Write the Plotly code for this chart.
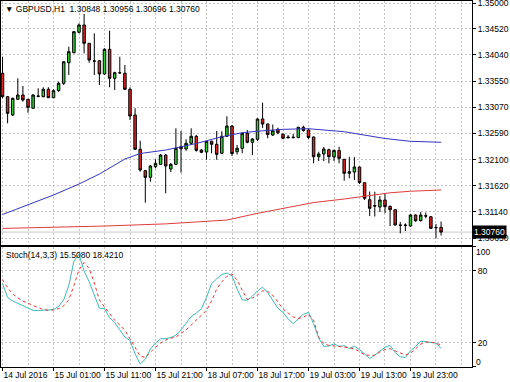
import plotly.graph_objects as go

# ---------------- data ----------------
bar_idx = list(range(87))

opens = [1.33699, 1.33266, 1.32927, 1.33218, 1.33297, 1.33218, 1.33051, 1.33279, 1.33266, 1.33403,
         1.33247, 1.33377, 1.33514, 1.33895, 1.34080, 1.34458, 1.34593, 1.34254, 1.33926, 1.33932,
         1.33686, 1.34143, 1.33606, 1.33710, 1.33699, 1.33403, 1.32927, 1.32292, 1.31896, 1.31774,
         1.31970, 1.32014, 1.32186, 1.31927, 1.32014, 1.32340, 1.32298, 1.32403, 1.32533, 1.32279,
         1.32242, 1.32440, 1.32385, 1.32218, 1.32533, 1.32723, 1.32248, 1.32311, 1.32588, 1.32422,
         1.32477, 1.32853, 1.32760, 1.32557, 1.32662, 1.32570, 1.32520, 1.32507, 1.32510, 1.32699,
         1.32649, 1.32520, 1.32155, 1.32205, 1.32285, 1.32149, 1.32270, 1.32107, 1.31848, 1.31872,
         1.31964, 1.31674, 1.31359, 1.31252, 1.31224, 1.31354, 1.31237, 1.31174, 1.30891, 1.30891,
         1.30872, 1.31076, 1.30974, 1.31063, 1.31044, 1.30845, 1.30848]

highs = [1.34006, 1.33279, 1.33247, 1.33606, 1.33464, 1.33218, 1.33316, 1.33421, 1.33440, 1.33440,
         1.33403, 1.33543, 1.33913, 1.34191, 1.34482, 1.34624, 1.34796, 1.34254, 1.34439, 1.33945,
         1.34162, 1.34487, 1.33728, 1.34006, 1.33852, 1.33440, 1.33051, 1.32451, 1.31909, 1.32001,
         1.32107, 1.32205, 1.32205, 1.32038, 1.32681, 1.32631, 1.32477, 1.32681, 1.32557, 1.32292,
         1.32440, 1.32451, 1.32631, 1.32625, 1.32903, 1.32742, 1.32372, 1.32599, 1.32649, 1.32496,
         1.32866, 1.33155, 1.32770, 1.32751, 1.32692, 1.32588, 1.32557, 1.32575, 1.32710, 1.32729,
         1.32681, 1.32529, 1.32248, 1.32335, 1.32303, 1.32285, 1.32340, 1.32112, 1.32155, 1.32149,
         1.31974, 1.31677, 1.31511, 1.31507, 1.31428, 1.31465, 1.31252, 1.31178, 1.30946, 1.30922,
         1.31089, 1.31089, 1.31131, 1.31122, 1.31057, 1.30909, 1.30956]

lows = [1.33236, 1.32773, 1.32908, 1.33205, 1.33173, 1.32969, 1.33051, 1.33255, 1.33255, 1.33247,
        1.33247, 1.33358, 1.33482, 1.33667, 1.34069, 1.34439, 1.34069, 1.33895, 1.33667, 1.33482,
        1.33667, 1.33440, 1.33390, 1.33686, 1.33390, 1.32834, 1.32279, 1.31877, 1.31304, 1.31692,
        1.31940, 1.32014, 1.31478, 1.31872, 1.32001, 1.31859, 1.32266, 1.32372, 1.32248, 1.32223,
        1.32099, 1.32218, 1.32099, 1.32205, 1.32520, 1.32168, 1.32196, 1.32218, 1.32403, 1.32186,
        1.32446, 1.32686, 1.32496, 1.32538, 1.32570, 1.32477, 1.32496, 1.32496, 1.32496, 1.32618,
        1.32477, 1.32033, 1.32075, 1.32075, 1.32033, 1.32075, 1.32033, 1.31711, 1.31755, 1.31724,
        1.31650, 1.31354, 1.31057, 1.31048, 1.31131, 1.31113, 1.30872, 1.30882, 1.30737, 1.30780,
        1.30854, 1.30952, 1.30952, 1.31015, 1.30817, 1.30645, 1.30696]

closes = [1.33266, 1.32958, 1.33236, 1.33297, 1.33205, 1.33069, 1.33297, 1.33273, 1.33403, 1.33247,
          1.33377, 1.33514, 1.33913, 1.34099, 1.34469, 1.34593, 1.34254, 1.33945, 1.33925, 1.33686,
          1.34143, 1.33606, 1.33710, 1.33708, 1.33403, 1.32908, 1.32292, 1.31909, 1.31774, 1.31983,
          1.32033, 1.32186, 1.31983, 1.32014, 1.32311, 1.32303, 1.32403, 1.32533, 1.32273, 1.32236,
          1.32440, 1.32385, 1.32199, 1.32533, 1.32723, 1.32214, 1.32311, 1.32588, 1.32422, 1.32483,
          1.32853, 1.32760, 1.32566, 1.32636, 1.32599, 1.32496, 1.32507, 1.32514, 1.32699, 1.32640,
          1.32510, 1.32155, 1.32205, 1.32298, 1.32155, 1.32273, 1.32125, 1.31848, 1.31877, 1.31964,
          1.31677, 1.31385, 1.31200, 1.31242, 1.31354, 1.31230, 1.31174, 1.30891, 1.30885, 1.30885,
          1.31076, 1.30969, 1.31076, 1.31057, 1.30830, 1.30841, 1.30760]

ma_blue_idx = [0, 10, 15, 19, 24, 27, 32, 35, 38, 43, 47, 50, 55, 60, 67, 75, 80, 86]
ma_blue_val = [1.31085, 1.31446, 1.31650, 1.31835, 1.32112, 1.32214, 1.32279, 1.32335, 1.32399,
               1.32525, 1.32599, 1.32627, 1.32662, 1.32673, 1.32618, 1.32492, 1.32440, 1.32422]

ma_red_idx = [0, 10, 20, 32, 44, 50, 55, 61, 67, 72, 76, 80, 86]
ma_red_val = [1.30828, 1.30850, 1.30872, 1.30912, 1.30983, 1.31107, 1.31196, 1.31307, 1.31372,
              1.31437, 1.31487, 1.31516, 1.31539]

stoch_k = [69.5, 58, 55, 53, 51, 49, 47.2, 47, 47.2, 47.5,
           47.8, 50.5, 56, 68, 88, 94, 80, 71, 60, 49,
           48.6, 41, 37, 31, 25, 22, 11, 2.5, 6.5, 15,
           20, 23.5, 23.6, 24.5, 26.5, 31, 37, 42, 45, 48.5,
           58, 69.5, 73.5, 77, 78.3, 76, 65, 56, 55.6, 59,
           63.5, 66.5, 62, 55, 49, 45.5, 40, 36.2, 40.5, 44,
           45.5, 36, 24, 17.2, 17.5, 19.3, 17.2, 17.8, 15.4, 17.2,
           14.5, 10.5, 7, 10, 13.5, 16.5, 18, 12, 8.5, 8,
           13.5, 17, 21.5, 21, 20.2, 20, 15.508]

stoch_d = [72.8, 66, 61, 57.5, 55, 53, 51.4, 49.5, 48, 47.2,
           47.5, 48.6, 51, 56, 68, 81, 87, 82, 70, 56,
           50, 44, 39, 35, 30.6, 23.5, 16.5, 9, 8, 12.5,
           16.5, 20, 22.5, 24, 25, 28, 31, 35, 38.9, 43,
           47.2, 55, 65, 71, 75.5, 77.5, 72.5, 64, 56.2, 57.5,
           60, 63.5, 63, 59.7, 54, 48.5, 45, 41.7, 40.5, 41.5,
           43.9, 38.9, 25, 19.5, 18, 17.5, 17.2, 16.6, 16.1, 15,
           13, 10, 9.7, 9.7, 12.5, 14.5, 15.2, 13.5, 11.5, 10,
           11.5, 15, 19, 20.8, 20.8, 19.8, 18.421]

price_ticks = [1.30650, 1.31140, 1.31620, 1.32100, 1.32590, 1.33070, 1.33550, 1.34040, 1.34520, 1.35000]
price_tick_text = ["1.30650", "1.31140", "1.31620", "1.32100", "1.32590", "1.33070", "1.33550",
                   "1.34040", "1.34520", "1.35000"]

time_tick_idx = [0, 10, 20, 30, 40, 50, 60, 70, 80]
time_tick_text = ["14 Jul 2016", "15 Jul 01:00", "15 Jul 11:00", "15 Jul 21:00", "18 Jul 07:00",
                  "18 Jul 17:00", "19 Jul 03:00", "19 Jul 13:00", "19 Jul 23:00"]
grid_minor_idx = [5, 15, 25, 35, 45, 55, 65, 75, 85, 90]

symbol_title = "\u25bc GBPUSD,H1\u00a0\u00a01.30848 1.30956 1.30696 1.30760"
stoch_title = "Stoch(14,3,3) 15.5080 18.4210"
last_price = 1.30760
last_price_text = "1.30760"

# ---------------- figure ----------------
FONT = "Liberation Sans, Arial, sans-serif"
FS = 8.5
GRID = "#c4c4c4"
XR = [-0.294, 92.06]

fig = go.Figure()

fig.add_trace(go.Candlestick(
    x=bar_idx, open=opens, high=highs, low=lows, close=closes,
    xaxis="x", yaxis="y",
    increasing=dict(line=dict(color="black", width=1), fillcolor="#32cd32"),
    decreasing=dict(line=dict(color="black", width=1), fillcolor="#e02424"),
    whiskerwidth=0, hoverinfo="skip", showlegend=False,
))

fig.add_trace(go.Scatter(x=ma_blue_idx, y=ma_blue_val, mode="lines", xaxis="x", yaxis="y",
                         line=dict(color="#3535c0", width=1), hoverinfo="skip", showlegend=False))
fig.add_trace(go.Scatter(x=ma_red_idx, y=ma_red_val, mode="lines", xaxis="x", yaxis="y",
                         line=dict(color="#e03c3c", width=1), hoverinfo="skip", showlegend=False))

fig.add_trace(go.Scatter(x=bar_idx, y=stoch_k, mode="lines", xaxis="x2", yaxis="y2",
                         line=dict(color="#3cbcb6", width=1), hoverinfo="skip", showlegend=False))
fig.add_trace(go.Scatter(x=bar_idx, y=stoch_d, mode="lines", xaxis="x2", yaxis="y2",
                         line=dict(color="#f03030", width=1, dash="dot"), hoverinfo="skip",
                         showlegend=False))

axis_common = dict(showline=True, linecolor="black", linewidth=1, mirror=True, zeroline=False,
                   gridcolor=GRID, griddash="2px,2px", gridwidth=1, automargin=False)

fig.update_layout(
    width=510, height=382,
    margin=dict(l=1, r=38, t=1, b=15),
    paper_bgcolor="white", plot_bgcolor="white",
    font=dict(family=FONT, size=FS, color="black"),
    boxgap=0.3,
    showlegend=False,
    xaxis=dict(domain=[0, 1], anchor="y", range=XR, tickvals=time_tick_idx + grid_minor_idx,
               showticklabels=False, ticks="", showgrid=True,
               rangeslider=dict(visible=False), **axis_common),
    yaxis=dict(domain=[0.33333, 1], anchor="x", side="right", range=[1.30521, 1.35037],
               tickvals=price_ticks, ticktext=price_tick_text, ticks="outside", ticklen=3,
               tickcolor="black", showgrid=True, tickfont=dict(size=FS),
               ticklabelstandoff=0, ticklabeloverflow="allow", **axis_common),
    xaxis2=dict(domain=[0, 1], anchor="y2", range=XR, matches="x", tickvals=time_tick_idx,
                ticktext=time_tick_text, ticks="outside", ticklen=3, tickcolor="black",
                tickangle=0, ticklabelposition="outside right", showgrid=True,
                tickfont=dict(size=FS), ticklabelstandoff=0, ticklabeloverflow="allow",
                minor=dict(tickvals=grid_minor_idx, showgrid=True, gridcolor=GRID,
                           griddash="2px,2px", ticks=""),
                **axis_common),
    yaxis2=dict(domain=[0, 0.32787], anchor="x2", side="right", range=[0, 100],
                tickvals=[0, 20, 80, 100], ticktext=["", "20", "80", ""], ticks="outside",
                ticklen=3, tickcolor="black", showgrid=True, tickfont=dict(size=FS),
                ticklabelstandoff=0, **axis_common),
)

# current price line
fig.add_shape(type="line", xref="x domain", yref="y", x0=0, x1=1, y0=last_price, y1=last_price,
              line=dict(color="#c8c8c8", width=1), layer="below")

annotations = [
    dict(text=symbol_title, xref="paper", yref="paper", x=0, y=1, xanchor="left", yanchor="top",
         xshift=2, yshift=-1, showarrow=False, font=dict(size=FS, family=FONT)),
    dict(text=stoch_title, xref="x2 domain", yref="y2 domain", x=0, y=1, xanchor="left",
         yanchor="top", xshift=3, yshift=-1, showarrow=False, font=dict(size=FS, family=FONT)),
    dict(text=last_price_text, xref="paper", yref="y", x=1, y=last_price, xanchor="left",
         yanchor="middle", xshift=0, showarrow=False, bgcolor="black", borderpad=1,
         font=dict(size=FS, color="white", family=FONT)),
    dict(text="100", xref="paper", yref="y2", x=1, y=100, xanchor="left", yanchor="top",
         xshift=2, yshift=2, showarrow=False, font=dict(size=FS, family=FONT)),
    dict(text="0", xref="paper", yref="y2", x=1, y=0, xanchor="left", yanchor="bottom",
         xshift=2, yshift=-2, showarrow=False, font=dict(size=FS, family=FONT)),
]
fig.update_layout(annotations=annotations)

fig.write_html("out.html", config={"displayModeBar": False},
               post_script="document.body.style.margin='0';document.body.style.overflow='hidden';")
